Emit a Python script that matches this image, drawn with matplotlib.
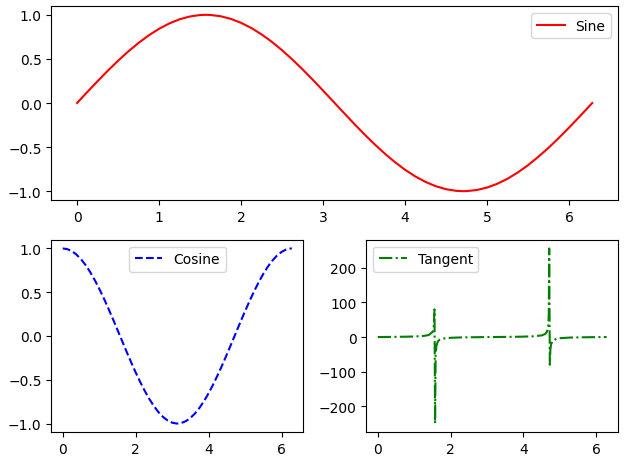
import matplotlib
matplotlib.use("Agg")
import matplotlib.pyplot as plt

# Sampled x positions for the sine / cosine curves
x_trig = [0.0, 0.125, 0.25, 0.375, 0.5, 0.625, 0.75, 0.875, 1.0, 1.125, 1.25,
          1.375, 1.5, 1.5708, 1.625, 1.75, 1.875, 2.0, 2.125, 2.25, 2.375, 2.5,
          2.625, 2.75, 2.875, 3.0, 3.125, 3.1416, 3.25, 3.375, 3.5, 3.625, 3.75,
          3.875, 4.0, 4.125, 4.25, 4.375, 4.5, 4.625, 4.7124, 4.75, 4.875, 5.0,
          5.125, 5.25, 5.375, 5.5, 5.625, 5.75, 5.875, 6.0, 6.125, 6.25, 6.2832]
sine_vals = [0.0, 0.1247, 0.2474, 0.3663, 0.4794, 0.5851, 0.6816, 0.7675, 0.8415,
             0.9023, 0.9490, 0.9809, 0.9975, 1.0, 0.9985, 0.9840, 0.9541, 0.9093,
             0.8507, 0.7781, 0.6939, 0.5985, 0.4939, 0.3817, 0.2634, 0.1411,
             0.0166, 0.0, -0.1082, -0.2313, -0.3508, -0.4648, -0.5716, -0.6693,
             -0.7568, -0.8327, -0.8950, -0.9435, -0.9775, -0.9962, -1.0, -0.9993,
             -0.9868, -0.9589, -0.9160, -0.8589, -0.7880, -0.7055, -0.6105,
             -0.5083, -0.3967, -0.2794, -0.1578, -0.0332, 0.0]
cosine_vals = [1.0, 0.9922, 0.9689, 0.9305, 0.8776, 0.8110, 0.7317, 0.6410, 0.5403,
               0.4312, 0.3153, 0.1945, 0.0707, 0.0, -0.0542, -0.1782, -0.2995,
               -0.4161, -0.5261, -0.6282, -0.7200, -0.8011, -0.8695, -0.9243,
               -0.9647, -0.9900, -0.9999, -1.0, -0.9941, -0.9729, -0.9365, -0.8854,
               -0.8206, -0.7431, -0.6536, -0.5538, -0.4461, -0.3315, -0.2108,
               -0.0873, 0.0, 0.0376, 0.1620, 0.2837, 0.4007, 0.5121, 0.6160,
               0.7087, 0.7921, 0.8612, 0.9186, 0.9602, 0.9875, 0.9995, 1.0]

# Sampled x positions for the tangent curve (denser around the jumps)
x_tan = [0.0, 0.25, 0.5, 0.75, 1.0, 1.25, 1.4, 1.5, 1.52, 1.54, 1.5583, 1.5748,
         1.59, 1.61, 1.65, 1.7, 1.8, 2.0, 2.25, 2.5, 2.75, 3.0, 3.25, 3.5, 3.75,
         4.0, 4.25, 4.5, 4.6, 4.65, 4.68, 4.6957, 4.7085, 4.7249, 4.74, 4.76,
         4.8, 4.9, 5.0, 5.25, 5.5, 5.75, 6.0, 6.283]
tangent_vals = [0.0, 0.26, 0.55, 0.93, 1.56, 3.0, 5.8, 14.1, 19.7, 32.5, 80.0,
                -250.0, -52.0, -25.5, -12.6, -7.7, -4.3, -2.19, -1.24, -0.75,
                -0.42, -0.14, 0.11, 0.37, 0.67, 1.16, 2.0, 4.64, 8.9, 16.4, 30.9,
                60.0, 256.0, -80.0, -36.0, -21.0, -11.4, -5.3, -3.38, -1.66,
                -0.99, -0.6, -0.29, 0.0]

W, H = 629, 464
fig = plt.figure(figsize=(W / 100, H / 100), dpi=100)


def rect(x0, y0, x1, y1):
    return [x0 / W, 1 - y1 / H, (x1 - x0) / W, (y1 - y0) / H]


ax1 = fig.add_axes(rect(51.3, 7.0, 618.0, 201.0))
ax2 = fig.add_axes(rect(51.3, 240.7, 303.3, 433.3))
ax3 = fig.add_axes(rect(366.3, 240.7, 618.0, 433.3))

ax1.plot(x_trig, sine_vals, 'r-', label='Sine')
ax1.legend(loc='upper right')

ax2.plot(x_trig, cosine_vals, 'b--', label='Cosine')
ax2.legend(loc='upper center')

ax3.plot(x_tan, tangent_vals, 'g-.', label='Tangent')
ax3.legend(loc='upper left')

fig.savefig('out.png', dpi=100)
